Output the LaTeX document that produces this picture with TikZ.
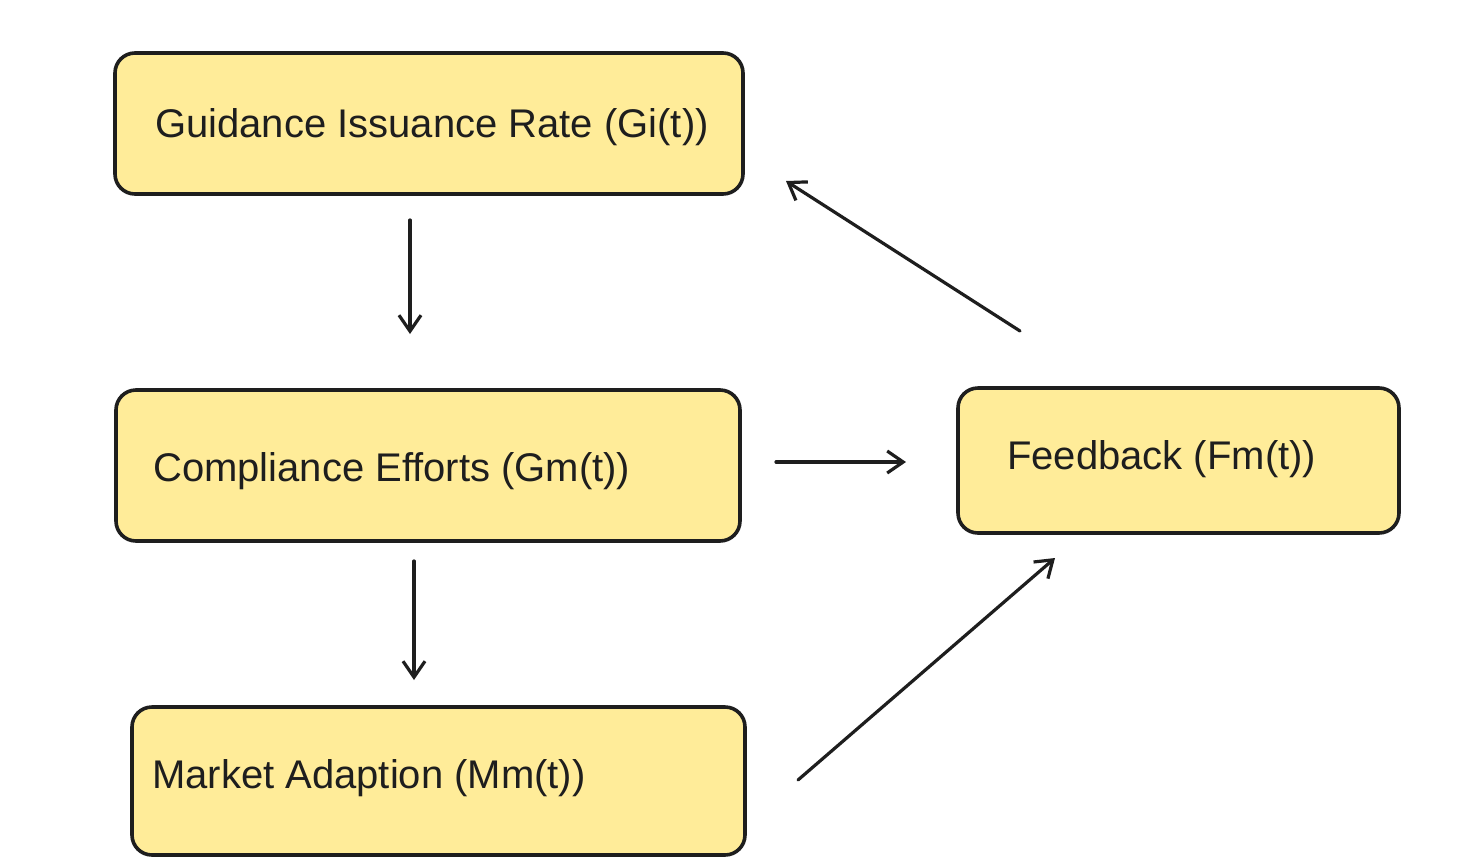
\documentclass[tikz,border=0pt]{standalone}
\usepackage{fontspec}
\setmainfont{Liberation Sans}
\usetikzlibrary{arrows.meta}
\definecolor{boxfill}{HTML}{FFEC99}
\definecolor{ink}{HTML}{1E1E1E}
\tikzset{
  block/.style={draw=ink, fill=boxfill, line width=3.6pt, rounded corners=20pt, inner sep=0pt},
  label/.style={anchor=west, inner sep=0pt, text=ink, font=\fontsize{40}{46}\selectfont},
  conn/.style={draw=ink, line width=3.2pt, line cap=round, -{Straight Barb[length=16pt,width=22pt,line width=3.2pt]}},
}
\begin{document}
\begin{tikzpicture}[x=1pt,y=-1pt]
\useasboundingbox (0,0) rectangle (1481,863);
\node[block, minimum width=628pt, minimum height=141pt] (gi) at (429,123.5) {};
\node[block, minimum width=624pt, minimum height=151pt] (gm) at (428,465.5) {};
\node[block, minimum width=613pt, minimum height=148pt] (mm) at (438.5,781) {};
\node[block, minimum width=441pt, minimum height=145pt] (fm) at (1178.5,460.5) {};
\node[label] (tgi) at (155,127) {Guidance Issuance Rate (Gi(t))};
\node[label] (tgm) at (153,471) {Compliance Efforts (Gm(t))};
\node[label] (tmm) at (152,778) {Market Adaption (Mm(t))};
\node[label] (tfm) at (1007,459) {Feedback (Fm(t))};
\coordinate (a1s) at (410,220); \coordinate (a1e) at (410,334);
\coordinate (a2s) at (414,561); \coordinate (a2e) at (414,680);
\coordinate (a3s) at (776,462); \coordinate (a3e) at (906,462);
\coordinate (a4s) at (798,780); \coordinate (a4e) at (1055,558);
\coordinate (a5s) at (1020,331); \coordinate (a5e) at (786,181);
\draw[conn] (a1s) -- (a1e);
\draw[conn] (a2s) -- (a2e);
\draw[conn] (a3s) -- (a3e);
\draw[conn] (a4s) -- (a4e);
\draw[conn] (a5s) -- (a5e);
\end{tikzpicture}
\end{document}
